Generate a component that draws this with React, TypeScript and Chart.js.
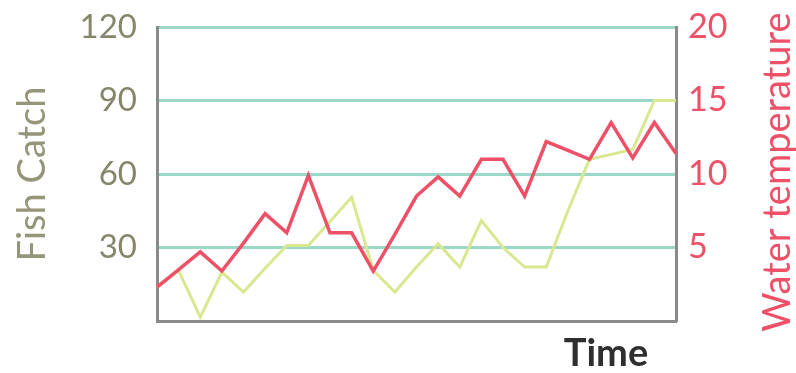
import React, { useEffect, useRef } from "react";
import { Chart, registerables } from "chart.js";

Chart.register(...registerables);

const timeLabels: string[] = [
  "1", "2", "3", "4", "5", "6", "7", "8", "9", "10", "11", "12", "13",
  "14", "15", "16", "17", "18", "19", "20", "21", "22", "23", "24", "25",
];

const fishCatch: number[] = [
  13.7, 20.6, 1.6, 19.9, 11.8, 21.5, 30.8, 30.8, 40.6, 50.5, 20.6, 11.8, 22,
  31.5, 22, 41, 30, 22, 22, 45, 66, 68, 70, 90, 90,
];

const waterTemp: number[] = [
  2.3, 3.5, 4.7, 3.4, 5.3, 7.3, 6.0, 9.9, 6.0, 6.0, 3.4, 5.9, 8.5, 9.8, 8.5,
  11.0, 11.0, 8.5, 12.2, 11.6, 11.0, 13.5, 11.1, 13.5, 11.4,
];

const fishTicks: number[] = [30, 60, 90, 120];
const tempTicks: number[] = [5, 10, 15, 20];

const FONT = "Lato, 'Open Sans', sans-serif";
const RED = "#ee5067";
const GREEN = "#d9e890";
const TEAL = "#9ad8c8";
const AXIS = "#8a8a8a";
const OLIVE = "#86866a";

const extraTitles = {
  id: "extraTitles",
  afterDraw(chart: any) {
    const ctx = chart.ctx;
    const area = chart.chartArea;
    ctx.save();
    // Right axis title, reading bottom to top
    ctx.translate(778, (area.top + area.bottom) / 2 - 2);
    ctx.rotate(-Math.PI / 2);
    ctx.fillStyle = RED;
    ctx.font = `38px ${FONT}`;
    ctx.textAlign = "center";
    ctx.textBaseline = "middle";
    ctx.fillText("Water temperature", 0, 0);
    ctx.restore();

    ctx.save();
    ctx.fillStyle = "#2e2e2e";
    ctx.font = `bold 38px ${FONT}`;
    ctx.textAlign = "center";
    ctx.textBaseline = "alphabetic";
    ctx.fillText("Time", area.right - 70, 366);
    ctx.restore();
  },
};

export default function App() {
  const ref = useRef<HTMLCanvasElement | null>(null);

  useEffect(() => {
    if (!ref.current) return;
    const chart = new Chart(ref.current, {
      type: "line",
      data: {
        labels: timeLabels,
        datasets: [
          {
            label: "Water temperature",
            data: waterTemp,
            yAxisID: "y1",
            borderColor: RED,
            borderWidth: 3.5,
            pointRadius: 0,
            tension: 0,
            fill: false,
          },
          {
            label: "Fish Catch",
            data: fishCatch,
            yAxisID: "y",
            borderColor: GREEN,
            borderWidth: 3,
            pointRadius: 0,
            tension: 0,
            fill: false,
          },
        ],
      },
      options: {
        animation: false,
        responsive: true,
        maintainAspectRatio: false,
        layout: { padding: { top: 27, left: 0, right: 0, bottom: 0 } },
        plugins: {
          legend: { display: false },
          tooltip: { enabled: false },
        },
        scales: {
          x: {
            type: "category",
            offset: false,
            grid: { display: false, drawTicks: false },
            ticks: { display: false },
            border: { display: true, color: AXIS, width: 3 },
            afterFit(scale: any) {
              scale.height = 52;
              scale.paddingLeft = 0;
              scale.paddingRight = 0;
            },
          },
          y: {
            type: "linear",
            position: "left",
            min: 0,
            max: 120,
            afterBuildTicks(scale: any) {
              scale.ticks = [0, ...fishTicks].map((v) => ({ value: v }));
            },
            ticks: {
              color: OLIVE,
              font: { family: FONT, size: 33 },
              padding: 20,
              callback: (v: any) => (v === 0 ? "" : String(v)),
            },
            grid: {
              drawTicks: false,
              lineWidth: 3,
              color: (c: any) => (c.tick && c.tick.value === 0 ? "rgba(0,0,0,0)" : TEAL),
            },
            border: { display: true, color: AXIS, width: 3 },
            title: {
              display: true,
              text: "Fish Catch",
              color: "#95957a",
              font: { family: FONT, size: 38 },
              padding: { top: 10, bottom: 0 },
            },
            afterFit(scale: any) {
              scale.width = 157;
              scale.paddingTop = 0;
              scale.paddingBottom = 0;
            },
          },
          y1: {
            type: "linear",
            position: "right",
            min: 0,
            max: 20,
            afterBuildTicks(scale: any) {
              scale.ticks = [0, ...tempTicks].map((v) => ({ value: v }));
            },
            ticks: {
              color: RED,
              font: { family: FONT, size: 34 },
              padding: 12,
              callback: (v: any) => (v === 0 ? "" : String(v)),
            },
            grid: { drawOnChartArea: false, drawTicks: false },
            border: { display: true, color: AXIS, width: 3 },
            afterFit(scale: any) {
              scale.width = 120;
              scale.paddingTop = 0;
              scale.paddingBottom = 0;
            },
          },
        },
      },
      plugins: [extraTitles],
    });
    return () => chart.destroy();
  }, []);

  return (
    <div style={{ position: "fixed", left: 0, top: 0, width: 796, height: 373, background: "#fff" }}>
      <canvas ref={ref} />
    </div>
  );
}
